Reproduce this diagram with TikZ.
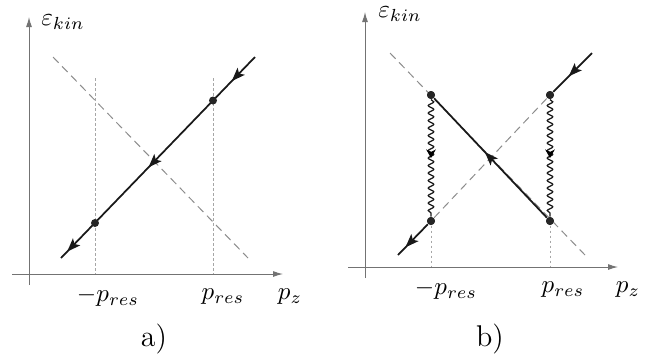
\documentclass[tikz,border=0pt]{standalone}
\usepackage{amsmath,amssymb}
\usetikzlibrary{arrows.meta,decorations.markings,decorations.pathmorphing}

\tikzset{
  axis/.style={black!55,line width=0.4pt,-{Latex[length=4pt,width=2.4pt]}},
  guide/.style={black!35,line width=0.35pt,dash pattern=on 1pt off 1pt},
  branch/.style={black!45,line width=0.4pt,dash pattern=on 3.2pt off 2pt},
  dot/.style={circle,fill=black!85,inner sep=0pt,minimum size=3.2pt},
  fermion/.style={black!90,line width=0.7pt},
  arr/.style={postaction={decorate,decoration={markings,
      mark=at position #1 with {\arrow{Stealth[length=5.4pt,width=4pt,inset=1.2pt]}}}}},
  photon/.style={black!90,line width=0.5pt,decorate,
      decoration={snake,amplitude=1.1pt,segment length=3pt}},
  warr/.style={postaction={decorate,decoration={markings,
      mark=at position #1 with {\arrow{Stealth[length=3.4pt,width=3.8pt,inset=1pt]}}}}},
}

\begin{document}
\begin{tikzpicture}[x=0.4pt,y=-0.4pt]
\useasboundingbox (0,0) rectangle (668,356);
% a)
\coordinate (a-x0) at (12,274); \coordinate (a-x1) at (283,274);
\coordinate (a-y0) at (29,285); \coordinate (a-y1) at (29,17);
\draw[axis] (a-x0) -- (a-x1); \draw[axis] (a-y0) -- (a-y1);
\coordinate (a-d0) at (53,57); \coordinate (a-d1) at (248,258);
\draw[branch] (a-d0) -- (a-d1);
\coordinate (a-gl) at (95,78); \coordinate (a-gr) at (213,78);
\coordinate (a-bl) at (95,274); \coordinate (a-br) at (213,274);
\draw[guide] (a-gl) -- (a-bl); \draw[guide] (a-gr) -- (a-br);
\coordinate (a-in) at (255,57); \coordinate (a-out) at (61,258);
\draw[fermion,arr=.12,arr=.55,arr=.97] (a-in) -- (a-out);
\node[dot] (a-r) at (213,100.5) {}; \node[dot] (a-l) at (95,223) {};
\node (a-eps) at (63,22) {$\varepsilon_{kin}$};
\node (a-mp) at (108,297) {$-p_{res}$};
\node (a-pp) at (223,297) {$p_{res}$};
\node (a-pz) at (290,297) {$p_z$};
\node (a-cap) at (154,339) {\large a)};
% b)
\coordinate (b-x0) at (348,267); \coordinate (b-x1) at (618,267);
\coordinate (b-y0) at (365,278); \coordinate (b-y1) at (365,12);
\draw[axis] (b-x0) -- (b-x1); \draw[axis] (b-y0) -- (b-y1);
\node[dot] (b-ul) at (431,95) {}; \node[dot] (b-ur) at (550,95) {};
\node[dot] (b-ll) at (431,221) {}; \node[dot] (b-lr) at (550,221) {};
\coordinate (b-d0) at (390,53); \coordinate (b-d1) at (585,255);
\draw[branch] (b-d0) -- (b-d1); \draw[branch] (b-ll) -- (b-ur);
\coordinate (b-bl) at (431,267); \coordinate (b-br) at (550,267);
\draw[guide] (b-ll) -- (b-bl); \draw[guide] (b-lr) -- (b-br);
\coordinate (b-in) at (592,53); \coordinate (b-out) at (398,255);
\draw[fermion,arr=.6] (b-in) -- (b-ur);
\draw[fermion,arr=.55] (b-lr) -- (b-ul);
\draw[fermion,arr=.75] (b-ll) -- (b-out);
\foreach \u/\l in {ul/ll,ur/lr}{
  \draw[photon] (b-\u) -- (b-\l);
  \path[warr=.5] (b-\u) -- (b-\l);
}
\node[dot] at (b-ul) {}; \node[dot] at (b-ur) {};
\node[dot] at (b-ll) {}; \node[dot] at (b-lr) {};
\node (b-eps) at (400,14) {$\varepsilon_{kin}$};
\node (b-mp) at (446,290) {$-p_{res}$};
\node (b-pp) at (563,290) {$p_{res}$};
\node (b-pz) at (628,290) {$p_z$};
\node (b-cap) at (490,339) {\large b)};
\end{tikzpicture}
\end{document}
